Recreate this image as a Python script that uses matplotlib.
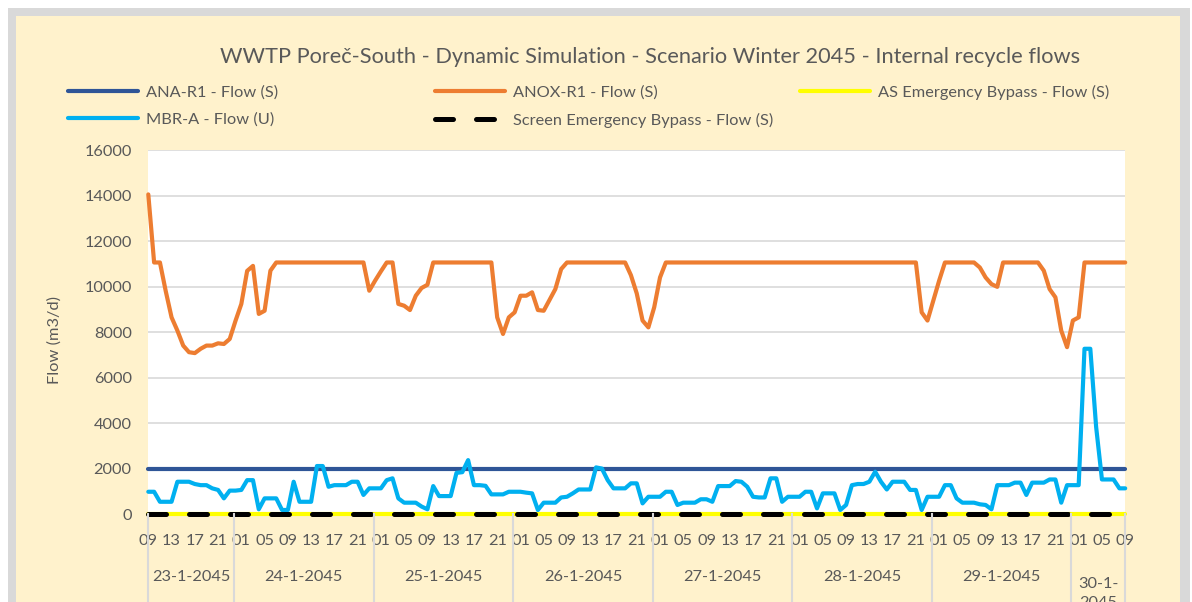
import matplotlib.pyplot as plt
import matplotlib.transforms as mtransforms
import numpy as np
from matplotlib.patches import Rectangle

plt.rcParams["font.family"] = ["Lato", "DejaVu Sans"]

TEXT = "#595959"
GRID = "#D9D9D9"

# hourly values, 23-1-2045 09:00 .. 30-1-2045 09:00 (one list row per day)
anox_r1 = [
    14050, 11060, 11060, 9800, 8650, 8070, 7410, 7120, 7080, 7270, 7410, 7410, 7510, 7480, 7700,
    8500, 9240, 10690, 10910, 8800, 8940, 10700, 11060, 11060, 11060, 11060, 11060, 11060, 11060,
    11060, 11060, 11060, 11060, 11060, 11060, 11060, 11060, 11060, 9820,
    10260, 10670, 11060, 11060, 9240, 9160, 8970, 9600, 9940, 10080, 11060, 11060, 11060, 11060,
    11060, 11060, 11060, 11060, 11060, 11060, 11060, 8650, 7920, 8650,
    8870, 9600, 9600, 9750, 8970, 8940, 9410, 9890, 10770, 11060, 11060, 11060, 11060, 11060,
    11060, 11060, 11060, 11060, 11060, 11060, 10500, 9700, 8510, 8210,
    9090, 10400, 11060, 11060, 11060, 11060, 11060, 11060, 11060, 11060, 11060, 11060, 11060,
    11060, 11060, 11060, 11060, 11060, 11060, 11060, 11060, 11060, 11060, 11060,
    11060, 11060, 11060, 11060, 11060, 11060, 11060, 11060, 11060, 11060, 11060, 11060, 11060,
    11060, 11060, 11060, 11060, 11060, 11060, 11060, 11060, 11060, 8870, 8510,
    9380, 10260, 11060, 11060, 11060, 11060, 11060, 11060, 10840, 10400, 10110, 9990, 11060,
    11060, 11060, 11060, 11060, 11060, 11060, 10700, 9890, 9530, 8070, 7340,
    8510, 8650, 11060, 11060, 11060, 11060, 11060, 11060, 11060, 11060,
]
mbr_a = [
    990, 990, 550, 550, 550, 1430, 1430, 1430, 1330, 1280, 1280, 1140, 1070, 700, 1040,
    1040, 1070, 1500, 1500, 220, 700, 700, 700, 190, 190, 1430, 550, 550, 550, 2120, 2120,
    1210, 1280, 1280, 1280, 1430, 1430, 850, 1140,
    1140, 1140, 1500, 1580, 700, 510, 510, 510, 340, 220, 1240, 800, 800, 800, 1820, 1850,
    2380, 1280, 1280, 1250, 875, 875, 875, 990,
    990, 990, 950, 920, 190, 510, 510, 510, 740, 770, 920, 1090, 1090, 1090, 2060, 2010,
    1500, 1140, 1140, 1140, 1360, 1360, 480, 770,
    770, 770, 990, 990, 410, 510, 510, 510, 660, 660, 550, 1240, 1240, 1240, 1460, 1430,
    1210, 770, 740, 740, 1580, 1580, 550, 770,
    770, 770, 990, 990, 260, 920, 920, 920, 190, 410, 1280, 1330, 1330, 1430, 1870, 1430,
    1090, 1430, 1430, 1430, 1070, 1070, 190, 770,
    770, 770, 1280, 1280, 700, 510, 510, 510, 440, 410, 220, 1280, 1280, 1280, 1390, 1390,
    850, 1390, 1390, 1390, 1530, 1530, 510, 1280,
    1280, 1280, 7270, 7270, 3840, 1530, 1530, 1530, 1140, 1140,
]
ana_r1_level = 2000
as_bypass_level = 0
screen_bypass_level = 0

hour_labels = (
    "09 13 17 21 01 05 09 13 17 21 01 05 09 13 17 21 01 05 09 13 17 21 "
    "01 05 09 13 17 21 01 05 09 13 17 21 01 05 09 13 17 21 01 05 09"
).split()
day_labels = ["23-1-2045", "24-1-2045", "25-1-2045", "26-1-2045",
              "27-1-2045", "28-1-2045", "29-1-2045", "30-1-\n2045"]
day_start = [0, 15, 39, 63, 87, 111, 135, 159]

x = np.arange(len(anox_r1))
n = len(x)
ana_r1 = [ana_r1_level] * n
as_bypass = [as_bypass_level] * n
screen_bypass = [screen_bypass_level] * n

W, H = 1192, 602
FS = 11.8


def fx(px):
    return px / W


def fy(py):
    return 1 - py / H


fig = plt.figure(figsize=(W / 100, H / 100), dpi=100, facecolor="white")
fig.add_artist(Rectangle((fx(8), 0), fx(1190) - fx(8), fy(8), transform=fig.transFigure,
                         facecolor=GRID, edgecolor="none", zorder=-3))
fig.add_artist(Rectangle((fx(16), 0), fx(1180) - fx(16), fy(16), transform=fig.transFigure,
                         facecolor="#FFF2CC", edgecolor="none", zorder=-2))

ax = fig.add_axes([fx(148.3), fy(514.3), fx(1125.2) - fx(148.3), fy(150) - fy(514.3)])
ax.set_facecolor("white")

style = dict(lw=3.0, solid_capstyle="round", solid_joinstyle="round", clip_on=False)
l_ana, = ax.plot(x, ana_r1, color="#2F5597", label="ANA-R1 - Flow (S)", **style)
l_anox, = ax.plot(x, anox_r1, color="#ED7D31", label="ANOX-R1 - Flow (S)", **style)
l_as, = ax.plot(x, as_bypass, color="#FFFF00", label="AS Emergency Bypass - Flow (S)", **style)
l_mbr, = ax.plot(x, mbr_a, color="#00B0F0", label="MBR-A - Flow (U)", **style)
l_scr, = ax.plot(x, screen_bypass, color="black", lw=3.6, linestyle=(0, (3.6, 4.6)),
                 dash_capstyle="round", clip_on=False, label="Screen Emergency Bypass - Flow (S)")

ax.set_xlim(0, n - 1)
ax.set_ylim(0, 16000)
ax.set_yticks(range(0, 16001, 2000))
ax.set_xticks(x[::4])
ax.set_xticklabels(hour_labels)
ax.tick_params(axis="both", length=0, labelsize=FS, labelcolor=TEXT)
ax.tick_params(axis="y", pad=12)
ax.tick_params(axis="x", pad=14)
ax.grid(axis="y", color=GRID, lw=1.2)
ax.set_axisbelow(True)
for s in ax.spines.values():
    s.set_visible(False)

ax.set_ylabel("Flow (m3/d)", fontsize=FS, color=TEXT)
ax.yaxis.set_label_coords(-0.0885, 0.478)

# day group separators and labels below the hour labels
trans = mtransforms.blended_transform_factory(ax.transData, ax.transAxes)
bounds = [0] + [d - 0.25 for d in day_start[1:]] + [n - 1]
for b in bounds:
    ax.plot([b, b], [0, -0.3], transform=trans, color=GRID, lw=1.5, clip_on=False)
for lab, a, b in zip(day_labels, bounds[:-1], bounds[1:]):
    ax.text((a + b) / 2, -0.172, lab, transform=trans, ha="center", va="top" if "\n" in lab else "center",
            fontsize=FS, color=TEXT, linespacing=1.45)

fig.text(fx(650), fy(57), "WWTP Poreč-South - Dynamic Simulation - Scenario Winter 2045 - Internal recycle flows",
         ha="center", va="center", fontsize=15.7, color=TEXT)

leg_kw = dict(loc="upper left", frameon=False, fontsize=FS, labelcolor=TEXT, borderpad=0,
              borderaxespad=0, handlelength=4.3, handletextpad=0.45, labelspacing=0.8)
fig.legend(handles=[l_ana, l_mbr], bbox_to_anchor=(fx(68), fy(85)), **leg_kw)
fig.legend(handles=[l_anox, l_scr], bbox_to_anchor=(fx(435), fy(85)), **leg_kw)
fig.legend(handles=[l_as], bbox_to_anchor=(fx(800), fy(85)), **leg_kw)

fig.savefig("out.png", dpi=100, facecolor=fig.get_facecolor())
